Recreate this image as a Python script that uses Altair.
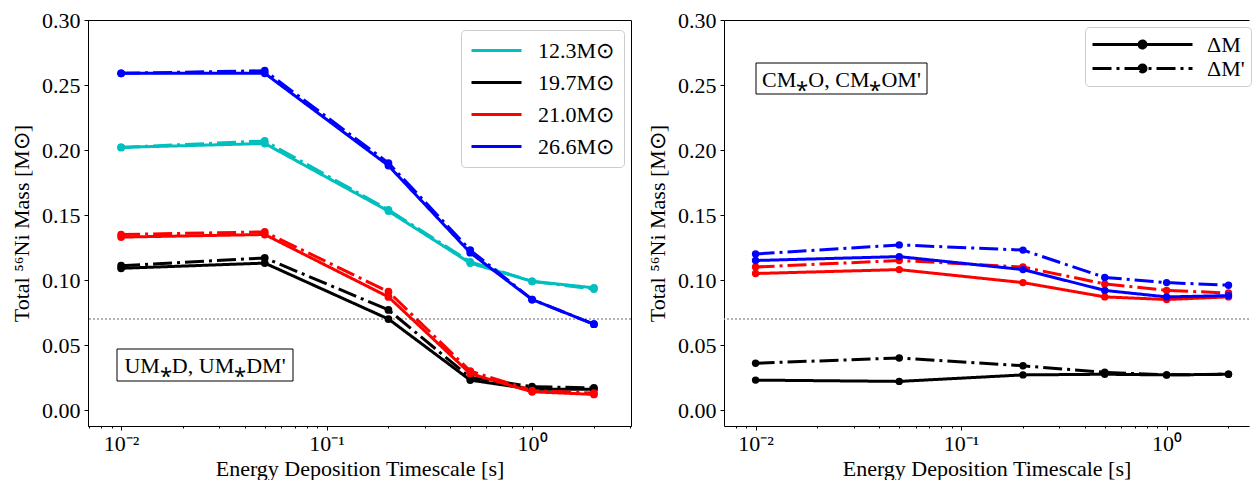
import altair as alt
import pandas as pd

# ---------------- data ----------------
x_vals = [0.01, 0.05, 0.2, 0.5, 1.0, 2.0]
mass_labels = ["12.3M⊙", "19.7M⊙", "21.0M⊙", "26.6M⊙"]
mass_colors = ["#00bfbf", "#000000", "#ff0000", "#0000ff"]
kinds = ["ΔM", "ΔM'"]

# left panel: UM*D (ΔM, solid) and UM*DM' (ΔM', dash-dot)
left_123_dm = [0.202, 0.205, 0.153, 0.113, 0.099, 0.094]
left_123_dmp = [0.202, 0.207, 0.154, 0.114, 0.099, 0.093]
left_197_dm = [0.109, 0.113, 0.070, 0.023, 0.016, 0.016]
left_197_dmp = [0.111, 0.117, 0.077, 0.025, 0.018, 0.017]
left_210_dm = [0.133, 0.135, 0.087, 0.028, 0.014, 0.012]
left_210_dmp = [0.135, 0.137, 0.091, 0.030, 0.015, 0.013]
left_266_dm = [0.259, 0.259, 0.188, 0.121, 0.085, 0.066]
left_266_dmp = [0.259, 0.261, 0.190, 0.123, 0.085, 0.066]

# right panel: CM*O (ΔM, solid) and CM*OM' (ΔM', dash-dot)
right_197_dm = [0.023, 0.022, 0.027, 0.0275, 0.027, 0.0275]
right_197_dmp = [0.036, 0.040, 0.034, 0.029, 0.027, 0.0275]
right_210_dm = [0.105, 0.108, 0.098, 0.087, 0.085, 0.087]
right_210_dmp = [0.110, 0.115, 0.110, 0.097, 0.092, 0.090]
right_266_dm = [0.115, 0.118, 0.108, 0.092, 0.087, 0.088]
right_266_dmp = [0.120, 0.127, 0.123, 0.102, 0.098, 0.096]

threshold = [0.07]
y_ticks = [0.0, 0.05, 0.10, 0.15, 0.20, 0.25, 0.30]
x_major = [0.01, 0.1, 1.0]
x_minor_l = [0.007, 0.008, 0.009, 0.02, 0.03, 0.04, 0.05, 0.06, 0.07, 0.08, 0.09,
             0.2, 0.3, 0.4, 0.5, 0.6, 0.7, 0.8, 0.9, 2.0, 3.0]
x_minor_r = [0.008, 0.009, 0.02, 0.03, 0.04, 0.05, 0.06, 0.07, 0.08, 0.09,
             0.2, 0.3, 0.4, 0.5, 0.6, 0.7, 0.8, 0.9, 2.0]
left_note = ["UM⁎D, UM⁎DM'"]
right_note = ["CM⁎O, CM⁎OM'"]


def frame(series):
    rows = []
    for (mass, kind), ys in series.items():
        for xv, yv in zip(x_vals, ys):
            rows.append({"x": xv, "y": yv, "mass": mass, "kind": kind})
    return pd.DataFrame(rows)


left_df = frame({
    (mass_labels[0], kinds[0]): left_123_dm, (mass_labels[0], kinds[1]): left_123_dmp,
    (mass_labels[1], kinds[0]): left_197_dm, (mass_labels[1], kinds[1]): left_197_dmp,
    (mass_labels[2], kinds[0]): left_210_dm, (mass_labels[2], kinds[1]): left_210_dmp,
    (mass_labels[3], kinds[0]): left_266_dm, (mass_labels[3], kinds[1]): left_266_dmp,
})
right_df = frame({
    (mass_labels[1], kinds[0]): right_197_dm, (mass_labels[1], kinds[1]): right_197_dmp,
    (mass_labels[2], kinds[0]): right_210_dm, (mass_labels[2], kinds[1]): right_210_dmp,
    (mass_labels[3], kinds[0]): right_266_dm, (mass_labels[3], kinds[1]): right_266_dmp,
})

# ---------------- styling ----------------
FONT = "Liberation Serif"
H = 406
WL, WR = 543, 525
x_scale_l = alt.Scale(type="log", domain=[0.0069, 3.03], nice=False)
x_scale_r = alt.Scale(type="log", domain=[0.00702, 2.517], nice=False)
y_scale = alt.Scale(domain=[-0.0123, 0.30], nice=False, zero=False)
dash_scale = alt.Scale(domain=kinds, range=[[1, 0], [19, 5, 3, 5]])

major_test = "datum.value == 0.01 || datum.value == 0.1 || datum.value == 1"


def x_axis(minor):
    return alt.Axis(
        values=sorted(x_major + minor),
        labelExpr="datum.value == 0.01 ? '10⁻²' : datum.value == 0.1 ? '10⁻¹' : datum.value == 1 ? '10⁰' : ''",
        tickSize={"condition": {"test": major_test, "value": 4}, "value": 2},
        labelOverlap=False, labelFlush=False, grid=False,
        title="Energy Deposition Timescale [s]", titlePadding=4, labelPadding=3,
    )


top_axis = alt.Axis(orient="top", labels=False, ticks=False, domain=True, grid=False, title=None)
y_axis = alt.Axis(values=y_ticks, format=".2f", grid=False, tickSize=4,
                  title="Total ⁵⁶Ni Mass [M⊙]", titlePadding=8, labelPadding=4)


def hline():
    return alt.Chart(pd.DataFrame({"y": threshold})).mark_rule(
        color="#999999", strokeDash=[2, 2], strokeWidth=1.5
    ).encode(y=alt.Y("y:Q", scale=y_scale))


def note(text, x0, x1, y0, y1):
    d = pd.DataFrame({"t": text})
    box = alt.Chart(d).mark_rect(fill="white", stroke="black", strokeWidth=1).encode(
        x=alt.value(x0), x2=alt.value(x1), y=alt.value(y0), y2=alt.value(y1))
    txt = alt.Chart(d).mark_text(font=FONT, fontSize=22, align="center", baseline="middle",
                                 color="black").encode(
        x=alt.value((x0 + x1) / 2), y=alt.value((y0 + y1) / 2 + 1), text="t:N")
    return box + txt


# ---- left panel ----
left_color = alt.Scale(domain=mass_labels, range=mass_colors)
left_lines = alt.Chart(left_df).mark_line(strokeWidth=3).encode(
    x=alt.X("x:Q", scale=x_scale_l, axis=x_axis(x_minor_l)),
    y=alt.Y("y:Q", scale=y_scale, axis=y_axis),
    color=alt.Color("mass:N", scale=left_color,
                    legend=alt.Legend(
                        title=None, orient="none", legendX=373, legendY=10,
                        symbolType="M-1,0L4,0", symbolSize=400, symbolStrokeWidth=3,
                        labelFont=FONT, labelFontSize=22, labelOffset=45,
                        rowPadding=9, padding=9, strokeColor="#cccccc",
                        fillColor="rgba(255,255,255,0.8)", cornerRadius=4)),
    strokeDash=alt.StrokeDash("kind:N", scale=dash_scale, legend=None),
)
left_points = alt.Chart(left_df).mark_point(filled=True, size=60, opacity=1).encode(
    x=alt.X("x:Q", scale=x_scale_l),
    y=alt.Y("y:Q", scale=y_scale),
    color=alt.Color("mass:N", scale=left_color, legend=None),
)

# ---- right panel ----
right_color = alt.Scale(domain=mass_labels[1:], range=mass_colors[1:])
right_lines = alt.Chart(right_df).mark_line(strokeWidth=3).encode(
    x=alt.X("x:Q", scale=x_scale_r, axis=x_axis(x_minor_r)),
    y=alt.Y("y:Q", scale=y_scale, axis=y_axis),
    color=alt.Color("mass:N", scale=right_color, legend=None),
    strokeDash=alt.StrokeDash("kind:N", scale=dash_scale, legend=alt.Legend(
        title=None, orient="none", legendX=361, legendY=7,
        symbolType="M-1,0L9,0M3.65,0A0.35,0.35 0 1,1 4.35,0A0.35,0.35 0 1,1 3.65,0Z",
        symbolSize=400, symbolStrokeWidth=3, symbolStrokeColor="black",
        symbolFillColor="black", labelFont=FONT, labelFontSize=22, labelOffset=93,
        rowPadding=1, padding=6, strokeColor="#cccccc",
        fillColor="rgba(255,255,255,0.8)", cornerRadius=4)),
)
right_points = alt.Chart(right_df).mark_point(filled=True, size=55, opacity=1).encode(
    x=alt.X("x:Q", scale=x_scale_r, axis=top_axis),
    y=alt.Y("y:Q", scale=y_scale),
    color=alt.Color("mass:N", scale=right_color, legend=None),
)

left = alt.layer(hline(), left_lines, left_points,
                 note(left_note, 29, 205, 329, 361)).properties(width=WL, height=H)
right = alt.layer(hline(), right_lines, right_points,
                  note(right_note, 32, 203, 43, 74)).resolve_axis(x="independent").properties(
    width=WR, height=H, view=alt.ViewBackground(stroke="transparent"))

chart = alt.hconcat(left, right, spacing=13).resolve_scale(
    x="independent", color="independent", strokeDash="independent"
).resolve_legend(color="independent", strokeDash="independent").properties(
    padding={"left": 2, "top": 0, "right": 0, "bottom": 0}
).configure_view(stroke="black", strokeWidth=1).configure_axis(
    labelFont=FONT, titleFont=FONT, labelFontSize=22, titleFontSize=22,
    labelColor="black", titleColor="black", domainColor="black", tickColor="black",
    titleFontWeight="normal", domainWidth=1, tickWidth=1,
).configure_legend(labelColor="black")

chart.save("out.html", embed_options={"renderer": "svg", "actions": False})
